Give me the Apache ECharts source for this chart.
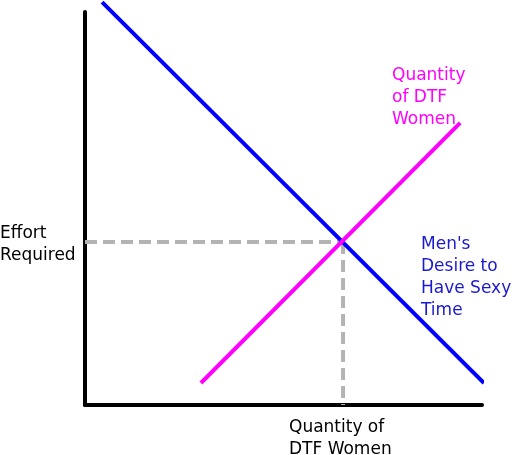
<!DOCTYPE html>
<html>
<head>
<meta charset="utf-8">
<script src="https://cdn.jsdelivr.net/npm/echarts@6/dist/echarts.min.js"></script>
<style>
html,body{margin:0;padding:0;background:#fff;}
#chart{width:516px;height:455px;}
</style>
</head>
<body>
<div id="chart"></div>
<script>
// Demand (men's desire) line: [quantity, effort]
const demandLine = [[0.43, 10.25], [10.05, 0.56]];
// Supply (quantity of DTF women) line
const supplyLine = [[2.92, 0.56], [9.45, 7.18]];
// Equilibrium point
const equilibrium = [6.50, 4.15];
const axisRange = { xMin: 0, xMax: 10, yMin: 0, yMax: 10 };
const labels = {
  yAxis: ['Effort', 'Required'],
  xAxis: ['Quantity of', 'DTF Women'],
  supply: ['Quantity', 'of DTF', 'Women'],
  demand: ["Men's", 'Desire to', 'Have Sexy', 'Time']
};

const font = '"DejaVu Sans", Verdana, sans-serif';
const chart = echarts.init(document.getElementById('chart'));

const hDash = [[axisRange.xMin, equilibrium[1]], [equilibrium[0], equilibrium[1]]];
const vDash = [[equilibrium[0], equilibrium[1]], [equilibrium[0], axisRange.yMin]];

function textEl(lines, left, top, color) {
  return {
    type: 'text', left: left, top: top, z: 10,
    style: {
      text: lines.join('\n'), fill: color, font: '17px ' + font,
      lineHeight: 22, textAlign: 'left'
    }
  };
}

chart.setOption({
  animation: false,
  backgroundColor: '#ffffff',
  grid: { left: 85, top: 12, right: 34, bottom: 50 },
  xAxis: {
    type: 'value', min: axisRange.xMin, max: axisRange.xMax,
    axisLine: { show: true, onZero: false, lineStyle: { color: '#000', width: 4 } },
    axisTick: { show: false }, axisLabel: { show: false }, splitLine: { show: false }
  },
  yAxis: {
    type: 'value', min: axisRange.yMin, max: axisRange.yMax,
    axisLine: { show: true, onZero: false, lineStyle: { color: '#000', width: 4 } },
    axisTick: { show: false }, axisLabel: { show: false }, splitLine: { show: false }
  },
  series: [
    {
      type: 'line', data: hDash, symbol: 'none', clip: false, z: 1,
      lineStyle: { color: '#b3b3b3', width: 4, type: [12, 6] }
    },
    {
      type: 'line', data: vDash, symbol: 'none', clip: false, z: 1,
      lineStyle: { color: '#b3b3b3', width: 4, type: [12, 6] }
    },
    {
      type: 'line', data: demandLine, symbol: 'none', clip: false, z: 2,
      lineStyle: { color: '#0000ff', width: 4 }
    },
    {
      type: 'line', data: supplyLine, symbol: 'none', clip: false, z: 3,
      lineStyle: { color: '#ff00ff', width: 4 }
    }
  ],
  graphic: [
    textEl(labels.yAxis, 0, 223, '#000000'),
    textEl(labels.xAxis, 289, 417, '#000000'),
    textEl(labels.supply, 392, 65, '#ff00ff'),
    textEl(labels.demand, 421, 234, '#1a1acc')
  ]
});
</script>
</body>
</html>
